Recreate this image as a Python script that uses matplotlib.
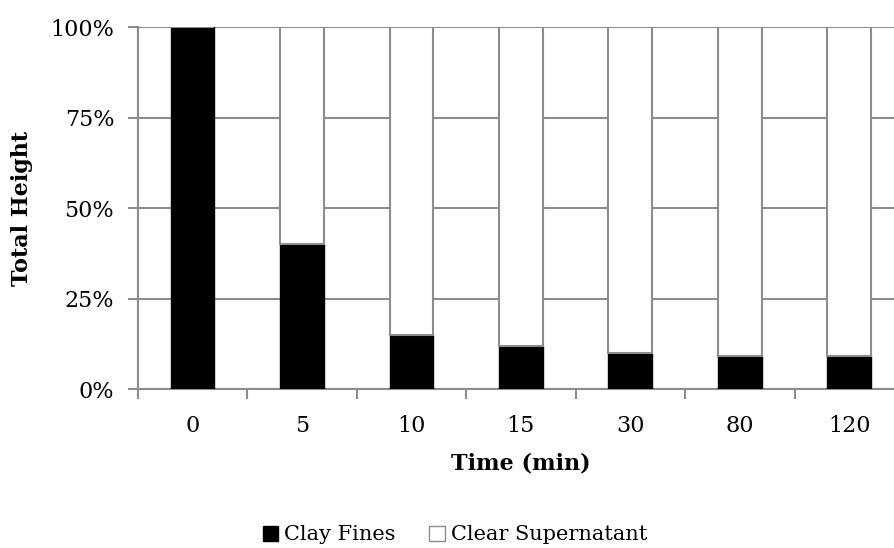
import matplotlib
matplotlib.use("Agg")
import matplotlib.pyplot as plt
from matplotlib.patches import Patch
import numpy as np

categories = ["0", "5", "10", "15", "30", "80", "120"]
clay_fines = [100, 40, 15, 12, 10, 9, 9]
clear_supernatant = [0, 60, 85, 88, 90, 91, 91]
y_ticks = [0, 25, 50, 75, 100]
y_tick_labels = ["0%", "25%", "50%", "75%", "100%"]

plt.rcParams['font.family'] = ['DejaVu Serif']
fig = plt.figure(figsize=(8.95, 5.48), dpi=100)
ax = fig.add_axes([0.154, 0.290, 1.010 - 0.154, 0.9507 - 0.290])

x = np.arange(len(categories))
grid_c = '#8c8c8c'
ax.bar(x, clay_fines, width=0.4, color='black', edgecolor='black', linewidth=1.0, zorder=3)
ax.bar(x, clear_supernatant, width=0.4, bottom=clay_fines, color='white',
       edgecolor=grid_c, linewidth=1.5, zorder=3)

ax.set_xlim(-0.5, len(categories) - 0.5)
ax.set_ylim(0, 100)
ax.set_yticks(y_ticks)
ax.set_yticklabels(y_tick_labels, fontsize=16)
ax.set_xticks(x)
ax.set_xticklabels(categories, fontsize=16)
ax.set_xticks(np.arange(len(categories) + 1) - 0.5, minor=True)
ax.tick_params(axis='x', which='major', length=0, pad=19)
ax.tick_params(axis='x', which='minor', length=7, color=grid_c, width=1.5)
ax.tick_params(axis='y', length=7, color=grid_c, width=1.5, pad=10)
ax.yaxis.grid(True, color=grid_c, linewidth=1.5, zorder=0)
ax.set_axisbelow(True)
for s in ['top', 'right']:
    ax.spines[s].set_visible(False)
for s in ['left', 'bottom']:
    ax.spines[s].set_color(grid_c)
    ax.spines[s].set_linewidth(1.5)

ax.set_ylabel("Total Height", fontsize=16, fontweight='bold')
ax.yaxis.set_label_coords(-(138 - 33) / (904 - 138), 0.5)
ax.set_xlabel("Time (min)", fontsize=16, fontweight='bold')
ax.xaxis.set_label_coords(0.5, -(452 - 389) / (389 - 27))

handles = [Patch(facecolor='black', edgecolor='black', label='Clay Fines'),
           Patch(facecolor='white', edgecolor=grid_c, label='Clear Supernatant')]
fig.legend(handles=handles, loc='center', bbox_to_anchor=(455 / 895, 1 - 535 / 548),
           ncol=2, frameon=False, fontsize=15, handlelength=0.75, handleheight=0.75,
           handletextpad=0.3, columnspacing=1.6, borderpad=0.0)

fig.savefig("out.png", dpi=100)
